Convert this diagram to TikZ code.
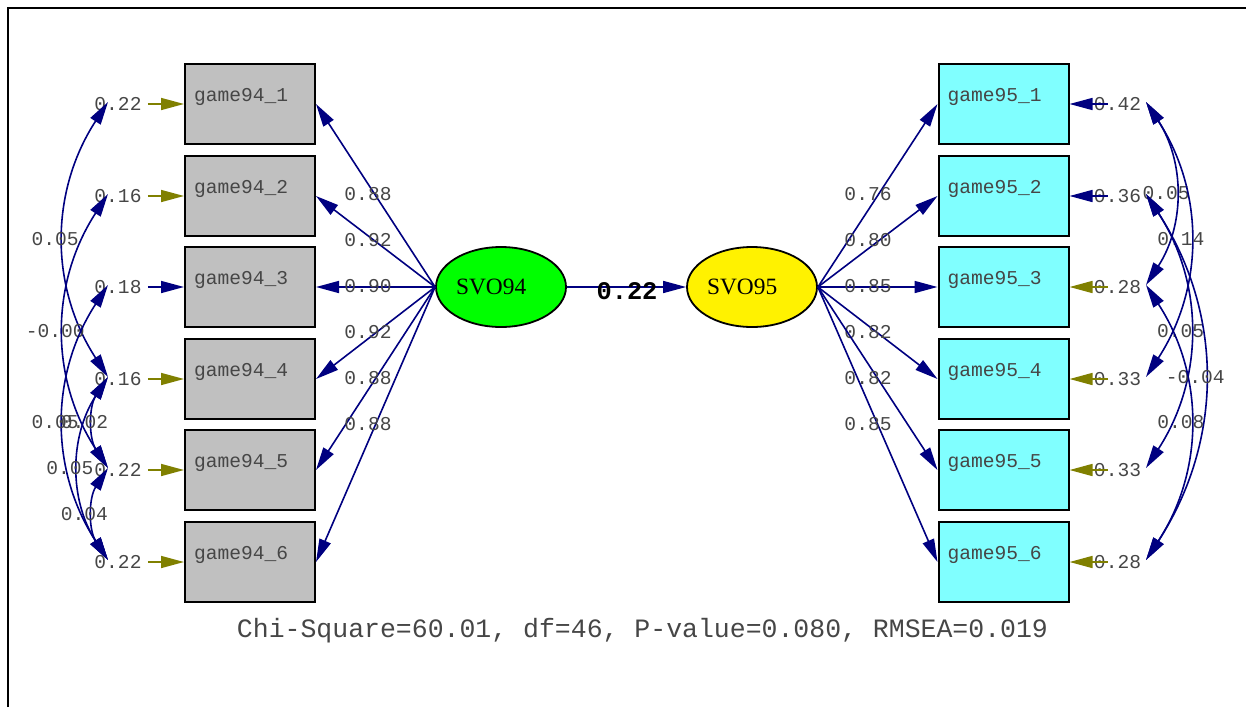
\documentclass[tikz,border=0pt]{standalone}
\usepackage{fontspec}
\usepackage{xcolor}
\usepackage{tikz}
\usetikzlibrary{arrows.meta, shapes.geometric}
\newfontfamily\lmono{Liberation Mono}
\newfontfamily\lserif{Liberation Serif}
\definecolor{navyline}{RGB}{0,0,128}
\definecolor{olivearr}{RGB}{128,128,0}
\definecolor{boxgray}{RGB}{192,192,192}
\definecolor{boxcyan}{RGB}{128,255,255}
\definecolor{numgray}{RGB}{70,70,70}
\tikzset{
  lsr/.tip={Triangle[length=11.5pt, width=6pt]},
  obs/.style={rectangle, draw, line width=1pt, minimum width=65pt, minimum height=40pt,
              text width=56pt, inner xsep=4.5pt, align=left, text depth=9pt,
              font=\lmono\fontsize{9.8}{11}\selectfont, text=numgray},
  lat/.style={ellipse, draw, line width=0.9pt, minimum width=65pt, minimum height=40pt,
              inner sep=0pt, text width=45pt, align=left,
              font=\lserif\fontsize{11.7}{13}\selectfont},
  num/.style={font=\lmono\fontsize{9.8}{11}\selectfont, text=numgray, inner sep=0pt},
  load/.style={-lsr, navyline, line width=0.8pt},
  errarr/.style={-lsr, line width=0.8pt},
  cov/.style={lsr-lsr, navyline, line width=0.8pt},
}

\begin{document}
\begin{tikzpicture}[x=0.5pt, y=-0.5pt]
  \useasboundingbox (0,0) rectangle (1246,707);
  \draw[line width=1pt] (8,707) -- (8,8) -- (1246,8);

  % latent variables
  \node[lat, fill=green]  (svo94) at (501,287) {SVO94};
  \node[lat, fill=yellow] (svo95) at (752,287) {SVO95};

  % indicators
  \foreach \y [count=\i] in {104,196,287,379,470,562} {
    \node[obs, fill=boxgray] (g94-\i) at (250,\y)    {game94\_\i};
    \node[obs, fill=boxcyan] (g95-\i) at (1003.5,\y) {game95\_\i};
  }

  % error variances
  \foreach \y/\v/\c [count=\i] in {104/0.22/olivearr, 196/0.16/olivearr, 287/0.18/navyline,
                                   379/0.16/olivearr, 470/0.22/olivearr, 562/0.22/olivearr} {
    \node[num, inner xsep=3pt] (eL\i) at (118,\y) {\v};
    \draw[errarr, \c] (eL\i) -- (g94-\i);
    \coordinate (cL\i) at (108,\y-2);
  }
  \foreach \y/\v/\c [count=\i] in {104/0.42/navyline, 196/0.36/navyline, 287/0.28/olivearr,
                                   379/0.33/olivearr, 470/0.33/olivearr, 562/0.28/olivearr} {
    \node[num] (eR\i) at (1117.5,\y) {\v};
    \draw[errarr, \c] ([xshift=7pt]eR\i.west) -- (g95-\i);
    \coordinate (cR\i) at (1146,\y-2);
  }

  % loadings
  \foreach \v [count=\i] in {0.88,0.92,0.90,0.92,0.88,0.88} {
    \draw[load] (svo94.west) -- (g94-\i.east);
    \node[num] (lA\i) at (368,148+46*\i) {\v};
  }
  \foreach \v [count=\i] in {0.76,0.80,0.85,0.82,0.82,0.85} {
    \draw[load] (svo95.east) -- (g95-\i.west);
    \node[num] (lB\i) at (868,148+46*\i) {\v};
  }

  % structural path
  \draw[load] (svo94) -- (svo95);
  \node[font=\lmono\bfseries\fontsize{12.7}{14}\selectfont, inner sep=0pt] (beta) at (627,291) {0.22};

  % correlated errors, 1994
  \draw[cov] (cL1) to[bend right=33] node[num, xshift=-4.5pt] (kL14) {0.05}  (cL4);
  \draw[cov] (cL2) to[bend right=33] node[num, xshift=-4.5pt] (kL25) {-0.00} (cL5);
  \draw[cov] (cL3) to[bend right=33] node[num, xshift=-4.5pt] (kL36) {0.05}  (cL6);
  \draw[cov] (cL4) to[bend right=33] node[num, xshift=-4.5pt] (kL45) {0.02}  (cL5);
  \draw[cov] (cL4) to[bend right=33] node[num, xshift=-4.5pt] (kL46) {0.05}  (cL6);
  \draw[cov] (cL5) to[bend right=33] node[num, xshift=-4.5pt] (kL56) {0.04}  (cL6);

  % correlated errors, 1995
  \draw[cov] (cR1) to[bend left=33] node[num, xshift=-4.5pt] (kR13) {0.05}  (cR3);
  \draw[cov] (cR1) to[bend left=33] node[num, xshift=-4.5pt] (kR14) {0.14}  (cR4);
  \draw[cov] (cR2) to[bend left=33] node[num, xshift=-4.5pt] (kR25) {0.05}  (cR5);
  \draw[cov] (cR2) to[bend left=33] node[num, xshift=-4.5pt] (kR26) {-0.04} (cR6);
  \draw[cov] (cR3) to[bend left=33] node[num, xshift=-4.5pt] (kR36) {0.08}  (cR6);

  \node[font=\lmono\fontsize{13.25}{15}\selectfont, text=numgray, inner sep=0pt] (fit) at (642.5,631)
    {Chi-Square=60.01, df=46, P-value=0.080, RMSEA=0.019};
\end{tikzpicture}
\end{document}
